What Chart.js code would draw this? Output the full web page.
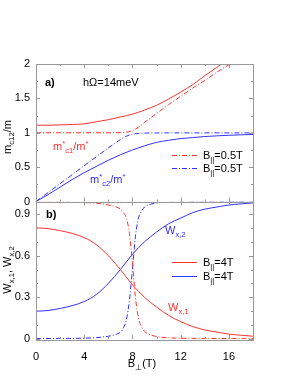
<!DOCTYPE html>
<html>
<head>
<meta charset="utf-8">
<script src="https://cdn.jsdelivr.net/npm/chart.js@4.4.0/dist/chart.umd.min.js"></script>
<style>
  html, body { margin: 0; padding: 0; background: #fff; }
  #wrap { width: 298px; height: 385px; }
</style>
</head>
<body>
<div id="wrap"><canvas id="myChart" width="298" height="385"></canvas></div>
<script>
// x axis (B perp, tesla)
const xTicks = [0, 4, 8, 12, 16];
const xMinor = [2, 6, 10, 14, 18];
// panel a) y ticks
const yaTicks = [0, 0.5, 1, 1.5, 2];
const yaMinor = [0.25, 0.75, 1.25, 1.75];
// panel b) y ticks
const ybTicks = [0, 0.3, 0.6, 0.9];
const ybMinor = [0.1, 0.2, 0.4, 0.5, 0.7, 0.8];

// panel a) solid curves
const bSolidA = [0, 1, 2, 3, 4, 5, 6, 7, 8, 9, 10, 11, 12, 13, 14, 15, 16, 17, 18];
const mc1Solid = [1.11, 1.11, 1.115, 1.12, 1.13, 1.16, 1.19, 1.23, 1.27, 1.33, 1.40, 1.49, 1.59, 1.70, 1.83, 1.95, 2.08, 2.20, 2.33];
const mc2Solid = [0, 0.10, 0.21, 0.32, 0.42, 0.51, 0.60, 0.68, 0.75, 0.81, 0.86, 0.89, 0.915, 0.93, 0.945, 0.955, 0.963, 0.97, 0.975];
// panel a) dash-dot curves
const bDashA = [0, 1, 2, 3, 4, 5, 6, 6.5, 7, 7.5, 8, 8.5, 9, 10, 11, 12, 13, 14, 15, 16, 17, 18];
const mc1Dash = [1, 1, 1, 1, 1, 1, 1, 1, 1.002, 1.008, 1.03, 1.08, 1.15, 1.28, 1.41, 1.53, 1.65, 1.76, 1.88, 1.99, 2.11, 2.23];
const mc2Dash = [0, 0.13, 0.26, 0.39, 0.52, 0.65, 0.78, 0.84, 0.90, 0.95, 0.98, 0.99, 0.995, 0.997, 0.998, 0.998, 0.998, 0.998, 0.998, 0.998, 0.998, 0.998];

// panel b) solid curves
const bSolidB = [0, 1, 2, 3, 4, 5, 6, 7, 8, 9, 10, 11, 12, 13, 14, 15, 16, 17, 18];
const wx1Solid = [0.80, 0.795, 0.78, 0.76, 0.73, 0.68, 0.60, 0.50, 0.39, 0.30, 0.23, 0.17, 0.125, 0.09, 0.065, 0.05, 0.035, 0.027, 0.02];
const wx2Solid = [0.20, 0.205, 0.22, 0.24, 0.27, 0.32, 0.40, 0.50, 0.61, 0.70, 0.77, 0.83, 0.87, 0.91, 0.935, 0.95, 0.965, 0.973, 0.98];
// panel b) dash-dot curves
const bDashB = [0, 2, 4, 5, 6, 6.5, 7, 7.25, 7.5, 7.75, 8, 8.25, 8.5, 8.75, 9, 9.5, 10, 11, 12, 14, 16, 18];
const wx1Dash = [0.985, 0.985, 0.982, 0.978, 0.965, 0.955, 0.935, 0.91, 0.87, 0.76, 0.55, 0.30, 0.15, 0.09, 0.055, 0.03, 0.018, 0.009, 0.006, 0.004, 0.003, 0.002];
const wx2Dash = [0.003, 0.004, 0.006, 0.01, 0.02, 0.03, 0.05, 0.08, 0.14, 0.28, 0.50, 0.74, 0.87, 0.92, 0.95, 0.97, 0.98, 0.984, 0.985, 0.986, 0.987, 0.987];

const RED = "rgb(255,50,50)";
const BLUE = "rgb(50,50,255)";
const DASHDOT = [5, 2, 1, 2];
const FONT = "'Liberation Sans', Arial, sans-serif";

function pts(xs, ys) {
  return xs.map((x, i) => ({ x: x, y: ys[i] }));
}

function line(data, color, axis, dashed) {
  return {
    data: data,
    yAxisID: axis,
    borderColor: color,
    borderWidth: 1,
    borderDash: dashed ? DASHDOT : [],
    pointRadius: 0,
    fill: false,
    cubicInterpolationMode: "monotone",
  };
}

// draws text with sub/superscript parts: [text, "sub"|"sup"|""]
function rich(ctx, parts, x, y, size, color, bold, center) {
  const font = (s) => (bold ? "bold " : "") + s + "px " + FONT;
  let w = 0;
  parts.forEach((p) => {
    ctx.font = font(p[1] ? size * 0.7 : size);
    w += ctx.measureText(p[0]).width;
  });
  let cx = center ? x - w / 2 : x;
  ctx.fillStyle = color;
  ctx.textAlign = "left";
  ctx.textBaseline = "alphabetic";
  parts.forEach((p) => {
    const s = p[1] ? size * 0.7 : size;
    ctx.font = font(s);
    let dy = 0;
    if (p[1] === "sub") dy = size * 0.3;
    if (p[1] === "sup") dy = -size * 0.4;
    ctx.fillText(p[0], cx, y + dy);
    cx += ctx.measureText(p[0]).width;
  });
}

function rotated(ctx, parts, x, y) {
  ctx.save();
  ctx.translate(x, y);
  ctx.rotate(-Math.PI / 2);
  rich(ctx, parts, 0, 0, 11, "#000", false, true);
  ctx.restore();
}

const framePlugin = {
  id: "frames",
  afterDraw(chart) {
    const ctx = chart.ctx;
    const xs = chart.scales.x;
    const panels = [
      [chart.scales.ya, yaTicks, yaMinor],
      [chart.scales.yb, ybTicks, ybMinor],
    ];
    ctx.save();
    ctx.lineWidth = 1;
    ctx.setLineDash([]);
    panels.forEach(([ys, major, minor]) => {
      const L = xs.left, R = xs.right, T = ys.top, B = ys.bottom;
      ctx.strokeStyle = "#999";
      ctx.strokeRect(Math.round(L) + 0.5, Math.round(T) + 0.5, Math.round(R - L), Math.round(B - T));
      ctx.beginPath();
      xTicks.concat(xMinor).forEach((v) => {
        const len = xTicks.includes(v) ? 4 : 2;
        const px = Math.round(xs.getPixelForValue(v)) + 0.5;
        ctx.moveTo(px, B); ctx.lineTo(px, B - len);
        ctx.moveTo(px, T); ctx.lineTo(px, T + len);
      });
      major.concat(minor).forEach((v) => {
        const len = major.includes(v) ? 4 : 2;
        const py = Math.round(ys.getPixelForValue(v)) + 0.5;
        ctx.moveTo(L, py); ctx.lineTo(L + len, py);
        ctx.moveTo(R, py); ctx.lineTo(R - len, py);
      });
      ctx.stroke();
      // y tick labels
      ctx.fillStyle = "#000";
      ctx.font = "11px " + FONT;
      ctx.textAlign = "right";
      ctx.textBaseline = "middle";
      major.forEach((v) => {
        ctx.fillText(String(v), L - 6, ys.getPixelForValue(v));
      });
    });

    // legends inside panels
    const legend = (y, color, label) => {
      ctx.strokeStyle = color;
      ctx.setLineDash(label[1]);
      ctx.beginPath();
      ctx.moveTo(172, y + 0.5);
      ctx.lineTo(197, y + 0.5);
      ctx.stroke();
      ctx.setLineDash([]);
      rich(ctx, [["B", ""], ["||", "sub"], [label[0], ""]], 203, y + 4, 11, "#000");
    };
    legend(155, RED, ["=0.5T", DASHDOT]);
    legend(168, BLUE, ["=0.5T", DASHDOT]);
    legend(262, RED, ["=4T", []]);
    legend(276, BLUE, ["=4T", []]);

    // panel labels
    rich(ctx, [["a)", ""]], 45, 86, 11, "#000", true);
    rich(ctx, [["hΩ=14meV", ""]], 83, 86, 11, "#000");
    rich(ctx, [["m", ""], ["*", "sup"], ["c1", "sub"], ["/m", ""], ["*", "sup"]], 53, 150, 11, RED);
    rich(ctx, [["m", ""], ["*", "sup"], ["c2", "sub"], ["/m", ""], ["*", "sup"]], 90, 183, 11, BLUE);
    rich(ctx, [["b)", ""]], 46, 218, 11, "#000", true);
    rich(ctx, [["W", ""], ["x,2", "sub"]], 165, 234, 11, BLUE);
    rich(ctx, [["W", ""], ["x,1", "sub"]], 168, 311, 11, RED);

    // axis titles
    rich(ctx, [["B", ""], ["⊥", "sub"], ["(T)", ""]], 142, 367, 11, "#000", false, true);
    rotated(ctx, [["m", ""], ["c12", "sub"], ["/m", ""]], 11, 137);
    rotated(ctx, [["W", ""], ["x,1", "sub"], [", W", ""], ["x,2", "sub"]], 11, 270);
    ctx.restore();
  },
};

const tickFont = { family: FONT, size: 11 };
const plain = (v) => String(v);

new Chart(document.getElementById("myChart"), {
  type: "line",
  data: {
    datasets: [
      line(pts(bSolidA, mc1Solid), RED, "ya", false),
      line(pts(bDashA, mc1Dash), RED, "ya", true),
      line(pts(bSolidA, mc2Solid), BLUE, "ya", false),
      line(pts(bDashA, mc2Dash), BLUE, "ya", true),
      line(pts(bSolidB, wx1Solid), RED, "yb", false),
      line(pts(bSolidB, wx2Solid), BLUE, "yb", false),
      line(pts(bDashB, wx1Dash), RED, "yb", true),
      line(pts(bDashB, wx2Dash), BLUE, "yb", true),
    ],
  },
  plugins: [framePlugin],
  options: {
    responsive: false,
    animation: false,
    layout: { padding: { top: 64, right: 45, left: 0, bottom: 0 } },
    plugins: { legend: { display: false }, tooltip: { enabled: false } },
    scales: {
      x: {
        type: "linear",
        min: 0,
        max: 18,
        grid: { display: false },
        border: { display: false },
        ticks: { font: tickFont, color: "#000", padding: 3, maxRotation: 0, callback: plain },
        afterBuildTicks: (s) => { s.ticks = xTicks.map((v) => ({ value: v })); },
        afterFit: (s) => { s.height = 46; },
      },
      yb: {
        type: "linear",
        position: "left",
        stack: "panels",
        stackWeight: 1,
        min: 0,
        max: 0.99,
        grid: { display: false },
        border: { display: false },
        ticks: { display: false },
        afterFit: (s) => { s.width = 36; },
      },
      ya: {
        type: "linear",
        position: "left",
        stack: "panels",
        stackWeight: 1,
        min: 0,
        max: 2,
        grid: { display: false },
        border: { display: false },
        ticks: { display: false },
        afterFit: (s) => { s.width = 36; },
      },
    },
  },
});
</script>
</body>
</html>
